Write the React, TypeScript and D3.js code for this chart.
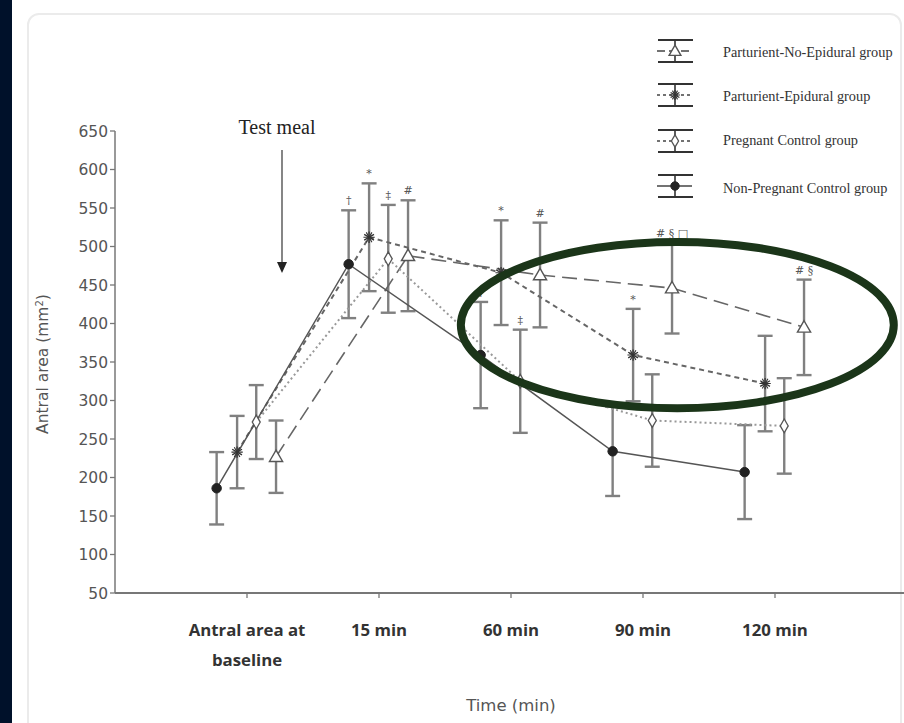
import React, { useEffect, useRef } from 'react';
import * as d3 from 'd3';

// categories and tick values
const categoryLines = [['Antral area at', 'baseline'], ['15 min'], ['60 min'], ['90 min'], ['120 min']];
const yTicks = [50, 100, 150, 200, 250, 300, 350, 400, 450, 500, 550, 600, 650];

// means and error bar half-widths (mm2)
const noEpiduralMean = [227, 488, 463, 446, 395];
const noEpiduralErr = [47, 72, 68, 59, 62];
const epiduralMean = [233, 512, 466, 359, 322];
const epiduralErr = [47, 70, 68, 60, 62];
const pregnantMean = [272, 484, 325, 274, 267];
const pregnantErr = [48, 70, 67, 60, 62];
const nonPregnantMean = [186, 477, 359, 234, 207];
const nonPregnantErr = [47, 70, 69, 58, 61];

// significance marks above the bars
const noEpiduralMarks = ['', '#', '#', '# § □', '# §'];
const epiduralMarks = ['', '*', '*', '*', ''];
const pregnantMarks = ['', '‡', '‡', '', ''];
const nonPregnantMarks = ['', '†', '†', '', ''];

const series = [
    { name: 'Parturient-No-Epidural group', mean: noEpiduralMean, err: noEpiduralErr, marks: noEpiduralMarks, offset: 0.22, dash: '15,7', color: '#666', width: 1.6, marker: 'triangle' },
    { name: 'Parturient-Epidural group', mean: epiduralMean, err: epiduralErr, marks: epiduralMarks, offset: -0.075, dash: '5,4', color: '#666', width: 2, marker: 'asterisk' },
    { name: 'Pregnant Control group', mean: pregnantMean, err: pregnantErr, marks: pregnantMarks, offset: 0.07, dash: '2,3', color: '#999', width: 2, marker: 'diamond' },
    { name: 'Non-Pregnant Control group', mean: nonPregnantMean, err: nonPregnantErr, marks: nonPregnantMarks, offset: -0.23, dash: null, color: '#555', width: 1.5, marker: 'circle' },
];

function drawMarker(g, kind, cx, cy, scale) {
    if (kind === 'triangle') {
        g.append('path').attr('d', d3.symbol(d3.symbolTriangle, 75 * scale)())
            .attr('transform', `translate(${cx},${cy + 1})`)
            .attr('fill', '#fff').attr('stroke', '#555').attr('stroke-width', 1.4);
    } else if (kind === 'asterisk') {
        g.append('path').attr('d', d3.symbol(d3.symbolAsterisk, 90 * scale)())
            .attr('transform', `translate(${cx},${cy})`)
            .attr('fill', 'none').attr('stroke', '#333').attr('stroke-width', 1.3);
        g.append('path').attr('d', d3.symbol(d3.symbolAsterisk, 90 * scale)())
            .attr('transform', `translate(${cx},${cy}) rotate(90)`)
            .attr('fill', 'none').attr('stroke', '#333').attr('stroke-width', 1.1);
    } else if (kind === 'diamond') {
        g.append('path').attr('d', d3.symbol(d3.symbolDiamond, 55 * scale)())
            .attr('transform', `translate(${cx},${cy})`)
            .attr('fill', '#fff').attr('stroke', '#555').attr('stroke-width', 1.3);
    } else {
        g.append('path').attr('d', d3.symbol(d3.symbolCircle, 70 * scale)())
            .attr('transform', `translate(${cx},${cy})`)
            .attr('fill', '#222').attr('stroke', '#222');
    }
}

function App() {
    const chartRef = useRef(null);

    useEffect(() => {
        const width = 904;
        const height = 723;

        const svg = d3.select(chartRef.current)
            .append('svg')
            .attr('width', width)
            .attr('height', height)
            .style('display', 'block');

        // page background and card
        svg.append('rect').attr('width', width).attr('height', height).attr('fill', '#fff');
        svg.append('rect').attr('width', 12).attr('height', height).attr('fill', '#00112a');
        svg.append('rect').attr('x', 28).attr('y', 14).attr('width', 873).attr('height', 760)
            .attr('rx', 11).attr('fill', '#fff').attr('stroke', '#ebebeb').attr('stroke-width', 2);

        const x = d3.scaleLinear().domain([-1, 5]).range([115, 907]);
        const y = d3.scaleLinear().domain([50, 650]).range([593, 131]);

        const axisColor = '#777';
        // y axis
        svg.append('line').attr('x1', x(-1)).attr('x2', x(-1)).attr('y1', y(650)).attr('y2', y(50))
            .attr('stroke', axisColor).attr('stroke-width', 1.5);
        svg.selectAll('.ytick').data(yTicks).enter().append('line')
            .attr('x1', x(-1) - 5).attr('x2', x(-1)).attr('y1', d => y(d)).attr('y2', d => y(d))
            .attr('stroke', axisColor).attr('stroke-width', 1.3);
        svg.selectAll('.ylab').data(yTicks).enter().append('text')
            .attr('x', x(-1) - 7).attr('y', d => y(d)).attr('dy', '0.36em')
            .attr('text-anchor', 'end').attr('font-family', 'DejaVu Sans').attr('font-size', 15.5)
            .attr('fill', '#555').text(d => d);
        svg.append('text')
            .attr('transform', `translate(48,${(y(650) + y(50)) / 2 + 2}) rotate(-90)`)
            .attr('text-anchor', 'middle').attr('font-family', 'DejaVu Sans').attr('font-size', 15.5)
            .attr('fill', '#555')
            .text('Antral area (mm')
            .append('tspan').attr('baseline-shift', 'super').attr('font-size', 10).text('2')
            .select(function () { return this.parentNode; })
            .append('tspan').text(')');

        // x axis
        svg.append('line').attr('x1', x(-1)).attr('x2', width).attr('y1', y(50)).attr('y2', y(50))
            .attr('stroke', axisColor).attr('stroke-width', 1.8);
        svg.selectAll('.xtick').data(categoryLines).enter().append('line')
            .attr('x1', (d, i) => x(i)).attr('x2', (d, i) => x(i))
            .attr('y1', y(50)).attr('y2', y(50) + 5)
            .attr('stroke', axisColor).attr('stroke-width', 1.3);
        categoryLines.forEach((lines, i) => {
            lines.forEach((t, j) => {
                svg.append('text').attr('x', x(i)).attr('y', 636 + j * 30)
                    .attr('text-anchor', 'middle').attr('font-family', 'Open Sans').attr('font-weight', 700)
                    .attr('font-size', 16.8).attr('fill', '#333').text(t);
            });
        });
        svg.append('text').attr('x', x(2)).attr('y', 711).attr('text-anchor', 'middle')
            .attr('font-family', 'DejaVu Sans').attr('font-size', 16.5).attr('fill', '#555').text('Time (min)');

        // test meal arrow
        svg.append('text').attr('x', 277).attr('y', 134).attr('text-anchor', 'middle')
            .attr('font-family', 'Liberation Serif').attr('font-size', 20).attr('fill', '#222').text('Test meal');
        svg.append('line').attr('x1', 282).attr('x2', 282).attr('y1', 150).attr('y2', 264)
            .attr('stroke', '#444').attr('stroke-width', 1.3);
        svg.append('path').attr('d', 'M277,262 L287,262 L282,273 Z').attr('fill', '#222');

        // error bars
        const bars = svg.append('g');
        series.forEach(s => {
            s.mean.forEach((m, i) => {
                const cx = x(i + s.offset);
                bars.append('line').attr('x1', cx).attr('x2', cx).attr('y1', y(m + s.err[i])).attr('y2', y(m - s.err[i]))
                    .attr('stroke', '#808080').attr('stroke-width', 2.4);
                [m + s.err[i], m - s.err[i]].forEach(v => {
                    bars.append('line').attr('x1', cx - 7.5).attr('x2', cx + 7.5).attr('y1', y(v)).attr('y2', y(v))
                        .attr('stroke', '#808080').attr('stroke-width', 2.4);
                });
            });
        });

        // lines
        series.forEach(s => {
            const line = d3.line().x((d, i) => x(i + s.offset)).y(d => y(d));
            svg.append('path').attr('d', line(s.mean)).attr('fill', 'none')
                .attr('stroke', s.color).attr('stroke-width', s.width)
                .attr('stroke-dasharray', s.dash);
        });

        // markers and significance marks
        series.forEach(s => {
            const g = svg.append('g');
            s.mean.forEach((m, i) => drawMarker(g, s.marker, x(i + s.offset), y(m), 1));
            const tg = svg.append('g').attr('opacity', 0.99);
            s.marks.forEach((t, i) => {
                if (!t) return;
                tg.append('text').attr('x', x(i + s.offset)).attr('y', y(s.mean[i] + s.err[i]) - 6)
                    .attr('text-anchor', 'middle').attr('font-family', 'DejaVu Serif').attr('font-size', 11)
                    .attr('fill', '#555').text(t);
            });
        });

        // legend
        const legendRows = [51, 95, 141, 186];
        const legendText = [52, 96, 140, 188];
        series.forEach((s, i) => {
            const g = svg.append('g');
            const cy = legendRows[i];
            const lx = 675;
            [cy - 11, cy + 11].forEach(yy => {
                g.append('line').attr('x1', lx - 17).attr('x2', lx + 18).attr('y1', yy).attr('y2', yy)
                    .attr('stroke', '#333').attr('stroke-width', 1.8);
            });
            g.append('line').attr('x1', lx).attr('x2', lx).attr('y1', cy - 11).attr('y2', cy + 11)
                .attr('stroke', '#333').attr('stroke-width', 1.6);
            g.append('line').attr('x1', lx - 18).attr('x2', lx + 17).attr('y1', cy).attr('y2', cy)
                .attr('stroke', '#444').attr('stroke-width', 1.4)
                .attr('stroke-dasharray', s.dash ? (s.marker === 'triangle' ? '8,4' : '3,3') : null);
            drawMarker(g, s.marker, lx, cy, 0.8);
            g.append('text').attr('x', 723).attr('y', legendText[i]).attr('dy', '0.35em')
                .attr('font-family', 'Liberation Serif').attr('font-size', 14.3).attr('fill', '#333')
                .text(s.name);
        });

        // highlight ellipse
        svg.append('ellipse')
            .attr('cx', x(3.26)).attr('cy', y(398))
            .attr('rx', x(1.64) - x(0)).attr('ry', y(290) - y(398))
            .attr('fill', 'none').attr('stroke', '#1b3519').attr('stroke-width', 8);

        return () => {
            d3.select(chartRef.current).select('svg').remove();
        };
    }, []);

    return (
        <div style={{ position: 'absolute', left: 0, top: 0 }}>
            <div ref={chartRef}></div>
        </div>
    );
}

export default App;
